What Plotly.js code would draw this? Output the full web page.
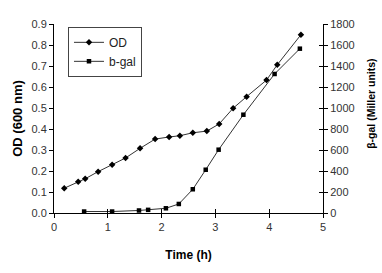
<!DOCTYPE html>
<html>
<head>
<meta charset="utf-8">
<script src="https://cdn.plot.ly/plotly-3.0.1.min.js"></script>
<style>html,body{margin:0;padding:0;background:#fff;}#chart{width:382px;height:273px;}</style>
</head>
<body>
<div id="chart"></div>
<script>
// OD (600 nm) series
const odTime = [0.19, 0.45, 0.58, 0.82, 1.08, 1.33, 1.60, 1.88, 2.14, 2.34, 2.58, 2.84, 3.07, 3.33, 3.58, 3.95, 4.15, 4.59];
const odValue = [0.118, 0.149, 0.163, 0.197, 0.23, 0.262, 0.308, 0.352, 0.362, 0.368, 0.382, 0.39, 0.424, 0.499, 0.554, 0.633, 0.706, 0.849];
// beta-gal (Miller units) series
const bgalTime = [0.56, 1.08, 1.58, 1.75, 2.08, 2.32, 2.58, 2.82, 3.06, 3.52, 4.10, 4.57];
const bgalValue = [14, 14, 24, 30, 45, 86, 226, 412, 603, 936, 1324, 1565];
// tick labels
const odTicks = [0, 0.1, 0.2, 0.3, 0.4, 0.5, 0.6, 0.7, 0.8, 0.9];
const bgalTicks = [0, 200, 400, 600, 800, 1000, 1200, 1400, 1600, 1800];
const timeTicks = [0, 1, 2, 3, 4, 5];

const lineStyle = {color: '#333', width: 1};
const traces = [
  {x: odTime, y: odValue, name: 'OD', mode: 'lines+markers', type: 'scatter',
   xaxis: 'x', yaxis: 'y', line: lineStyle,
   marker: {symbol: 'diamond', size: 5, color: '#000'}},
  {x: bgalTime, y: bgalValue, name: 'b-gal', mode: 'lines+markers', type: 'scatter',
   xaxis: 'x', yaxis: 'y2', line: lineStyle,
   marker: {symbol: 'square', size: 4.5, color: '#000'}},
  {x: [], y: [], xaxis: 'x3', yaxis: 'y3', showlegend: false, hoverinfo: 'skip', type: 'scatter'}
];

const fam = 'Liberation Sans, Arial, sans-serif';
const tickFont = {family: fam, size: 11, color: '#333'};

const layout = {
  width: 382, height: 273,
  margin: {l: 54, r: 59, t: 24, b: 60},
  paper_bgcolor: '#fff', plot_bgcolor: '#fff',
  showlegend: true,
  legend: {x: 0.052, y: 0.985, xanchor: 'left', yanchor: 'top',
    bordercolor: '#444', borderwidth: 1, bgcolor: '#fff',
    font: {family: fam, size: 12, color: '#222'},
    tracegroupgap: 0, itemwidth: 30},
  xaxis: {range: [0, 5], tickvals: timeTicks, ticktext: timeTicks.map(String),
    showline: true, linecolor: '#000', linewidth: 1, ticks: 'outside', ticklen: 4,
    tickcolor: '#000', showgrid: false, zeroline: false, tickfont: tickFont,
    title: {text: 'Time (h)', font: {family: fam, size: 12, color: '#000', weight: 'bold'}, standoff: 18}, anchor: 'y'},
  yaxis: {range: [0, 0.9], tickvals: odTicks, ticktext: odTicks.map(v => v.toFixed(1)),
    showline: true, linecolor: '#000', linewidth: 1, ticks: 'outside', ticklen: 4,
    tickcolor: '#000', showgrid: false, zeroline: false, tickfont: tickFont,
    title: {text: 'OD (600 nm)', font: {family: fam, size: 13, color: '#000', weight: 'bold'}, standoff: 5}},
  yaxis2: {range: [0, 1800], tickvals: bgalTicks, ticktext: bgalTicks.map(String),
    overlaying: 'y', side: 'right', anchor: 'x',
    showline: true, linecolor: '#000', linewidth: 1, ticks: 'outside', ticklen: 4,
    tickcolor: '#000', showgrid: false, zeroline: false, tickfont: tickFont},
  xaxis3: {range: [0, 5], tickvals: timeTicks, overlaying: 'x', anchor: 'y3',
    showticklabels: false, ticks: 'inside', ticklen: 4, tickcolor: '#000',
    showline: false, showgrid: false, zeroline: false},
  yaxis3: {range: [0, 1800], tickvals: bgalTicks, overlaying: 'y', side: 'right', anchor: 'x3',
    showticklabels: false, ticks: 'inside', ticklen: 4, tickcolor: '#000',
    showline: false, showgrid: false, zeroline: false},
  annotations: [
    {text: 'β-gal (Miller units)', xref: 'paper', yref: 'paper', x: 1.18, y: 0.58,
     xanchor: 'center', yanchor: 'middle', textangle: -90, showarrow: false,
     font: {family: fam, size: 10.5, color: '#000', weight: 'bold'}}
  ]
};

Plotly.newPlot('chart', traces, layout, {displayModeBar: false, staticPlot: true});
</script>
</body>
</html>
